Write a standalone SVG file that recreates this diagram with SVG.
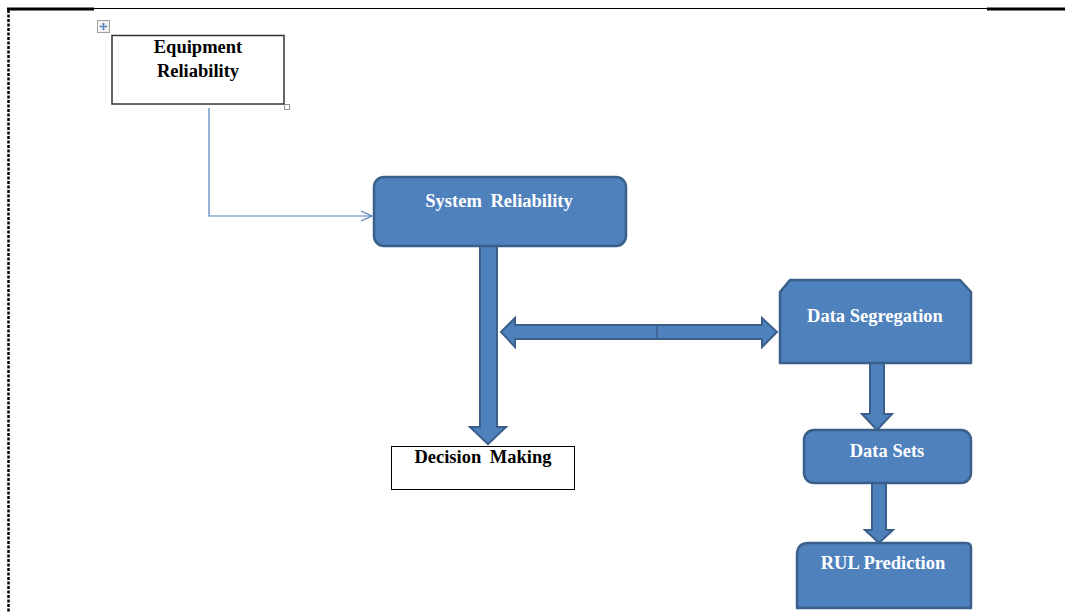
<svg xmlns="http://www.w3.org/2000/svg" width="1065" height="612" viewBox="0 0 1065 612">
<style>
.blk{fill:#4f81bd;stroke:#3a5f8b;stroke-width:2.5;stroke-linejoin:round}
.arr{fill:#4f81bd;stroke:#3a5f8b;stroke-width:2;stroke-linejoin:miter}
.wt{font-family:"Liberation Serif","Times New Roman",serif;font-weight:bold;font-size:18.5px;fill:#ffffff;text-anchor:middle}
.bt{font-family:"Liberation Serif","Times New Roman",serif;font-weight:bold;font-size:18.5px;fill:#000000;text-anchor:middle}
</style>
<defs>
<marker id="open" markerWidth="14" markerHeight="12" refX="12" refY="6" orient="auto" markerUnits="userSpaceOnUse">
<path d="M1,1 L12,6 L1,11" fill="none" stroke="#4f81bd" stroke-width="1.2"/>
</marker>
</defs>
<rect width="1065" height="612" fill="#ffffff"/>
<g id="frame">
<line x1="93" y1="8.5" x2="987" y2="8.5" stroke="#000" stroke-width="1"/>
<line x1="7" y1="9" x2="94" y2="9" stroke="#000" stroke-width="3"/>
<line x1="987" y1="9" x2="1065" y2="9" stroke="#000" stroke-width="3"/>
<line x1="8.5" y1="10" x2="8.5" y2="612" stroke="#000" stroke-width="2.5" stroke-dasharray="3 1.5"/>
</g>
<g id="handle">
<rect x="97.5" y="20.5" width="12" height="12" fill="#f2f2f2" stroke="#a0a0a0" stroke-width="1"/>
<path d="M103.5,23 V30 M100,26.5 H107" stroke="#4f81bd" stroke-width="1.2"/>
<path d="M103.5,22.5 L102,24.5 H105 Z M103.5,30.5 L102,28.5 H105 Z M99.5,26.5 L101.5,25 V28 Z M107.5,26.5 L105.5,25 V28 Z" fill="#4f81bd"/>
</g>
<g id="connectors">
<polyline points="209,108 209,216 372,216" fill="none" stroke="#4f81bd" stroke-width="1.2" marker-end="url(#open)"/>
<polygon class="arr" points="480,246 497,246 497,427 506,427 488,444 470,427 480,427"/>
<polygon class="arr" points="501,332 515,318 515,325 762,325 762,318 777,332 762,347 762,339 515,339 515,347"/>
<line x1="657" y1="325" x2="657" y2="339" stroke="#3a5f8b" stroke-width="1.5"/>
<polygon class="arr" points="870,363 884,363 884,414 892,414 877,430 862,414 870,414"/>
<polygon class="arr" points="872,483 886,483 886,530 893,530 879,543 865,530 872,530"/>
</g>
<g id="equipment">
<rect x="112" y="35.5" width="172" height="68.5" fill="#ffffff" stroke="#333" stroke-width="1.5"/>
<rect x="284.5" y="104.5" width="5" height="5" fill="#ffffff" stroke="#999" stroke-width="1"/>
<text class="bt" x="198" y="53">Equipment</text>
<text class="bt" x="198" y="77">Reliability</text>
</g>
<g id="system">
<rect class="blk" x="374" y="177" width="252" height="69" rx="10" ry="10"/>
<text class="wt" x="499" y="207" word-spacing="4">System Reliability</text>
</g>
<g id="decision">
<rect x="391.5" y="446.5" width="183" height="43" fill="#ffffff" stroke="#000" stroke-width="1"/>
<text class="bt" x="483" y="463" word-spacing="4">Decision Making</text>
</g>
<g id="segregation">
<path class="blk" d="M790,280 H960 L971,292 V363 H780 V292 Z"/>
<text class="wt" x="875" y="322">Data Segregation</text>
</g>
<g id="datasets">
<rect class="blk" x="804" y="430" width="167" height="53" rx="10" ry="10"/>
<text class="wt" x="887" y="457">Data Sets</text>
</g>
<g id="rul">
<path class="blk" d="M809,543 H966 Q971,543 971,548 V608 H797 V555 Q797,543 809,543 Z"/>
<text class="wt" x="883" y="569">RUL Prediction</text>
</g>
</svg>
